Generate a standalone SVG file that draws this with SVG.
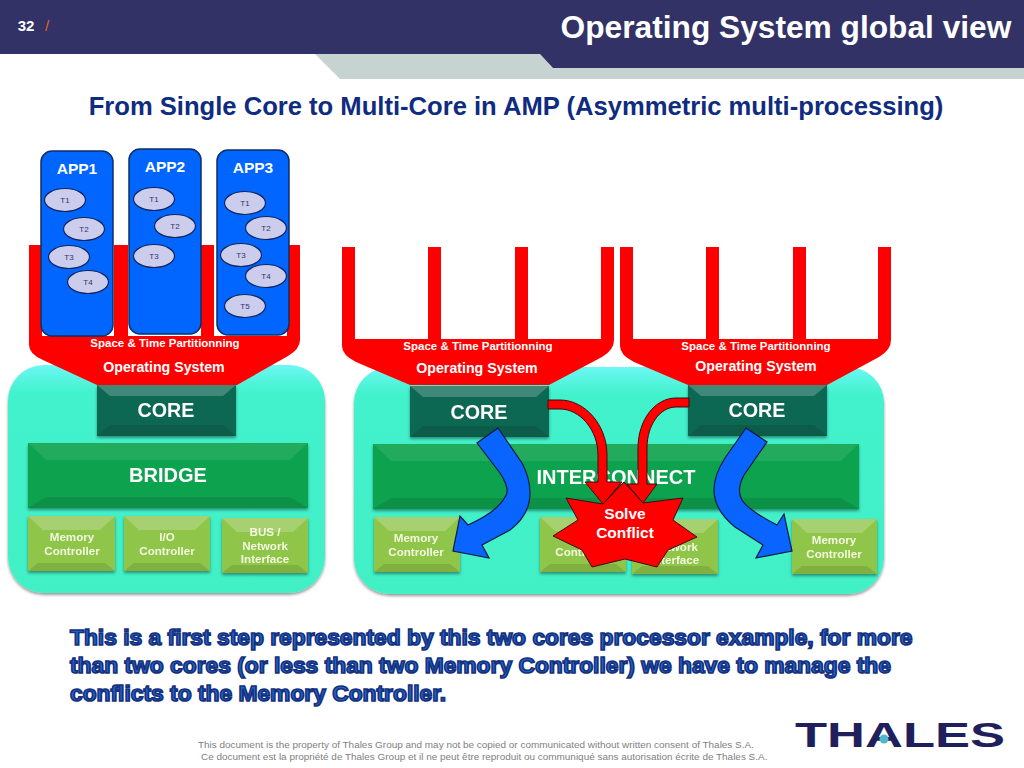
<svg xmlns="http://www.w3.org/2000/svg" width="1024" height="768" viewBox="0 0 1024 768">
<style>
text{font-family:"Liberation Sans",Arial,sans-serif;font-weight:bold;text-anchor:middle;fill:#fff}
.app{fill:#0066ff;stroke:#0f2f63;stroke-width:1.5}
.task{fill:#ccccec;stroke:#0f2560;stroke-width:1.2}
.tl{font-size:8px;font-weight:normal;fill:#33336a}
.al{font-size:15.5px}
.os{fill:#ff0000}
.pt{font-size:11.5px}
.ol{font-size:14.2px}
.cl{font-size:19.7px}
.bl{font-size:20px}
.ml{font-size:11.6px;fill:#f4f8e0}
.plate{fill:url(#teal);filter:url(#sh)}
.core{fill:#0b6753}.inter{fill:#0aa24e}.mem{fill:#8fc549}
.hi{fill:#fff;opacity:.22}.hi2{fill:#fff;opacity:.09}.lo{fill:#000;opacity:.1}
.red{fill:#ff0000;stroke:#3a0d10;stroke-width:1}
.blue{fill:#0a64ff;stroke:#0a1a40;stroke-width:1.2}
.body{font-size:22.8px;text-anchor:start;fill:#2468c8;stroke:#14307f;stroke-width:1.7px}
.foot{font-size:9.95px;font-weight:normal;text-anchor:start;fill:#808080}
</style>
<defs>
<linearGradient id="teal" x1="0" y1="0" x2="0" y2="1"><stop offset="0" stop-color="#6cf8f4"/><stop offset=".12" stop-color="#42f2cc"/><stop offset="1" stop-color="#42f0c6"/></linearGradient>
<filter id="sh" x="-5%" y="-5%" width="110%" height="115%"><feDropShadow dx="0" dy="2" stdDeviation="1.5" flood-color="#000" flood-opacity=".4"/></filter>
</defs>
<rect width="1024" height="768" fill="#fff"/>
<g id="header">
<polygon points="315,54 540,54 553,68 1024,68 1024,79 340,79" fill="#c6d3d1"/>
<polygon points="0,0 1024,0 1024,68 553,68 540,54 0,54" fill="#323266"/>
<text x="26" y="31" font-size="15">32</text>
<text x="47" y="31" font-size="15" style="font-weight:normal;fill:#e2641e">/</text>
<text x="786" y="38" font-size="31.7">Operating System global view</text>
</g>
<text id="heading" x="516" y="115" font-size="25.6" style="fill:#0f2c80">From Single Core to Multi-Core in AMP (Asymmetric multi-processing)</text>

<g id="soc1-plate"><rect class="plate" x="8" y="365" width="317" height="228" rx="36"/></g>
<g id="soc2-plate"><rect class="plate" x="354" y="367" width="530" height="227" rx="36"/></g>

<g id="os1">
<path class="os" d="M29,245H42V336H114V245H128V336H201V245H214V336H287V245H300V337V340Q300,349 288,356L237,385H97L43,360Q29,354 29,345Z"/>
<rect x="42" y="245" width="72" height="91" fill="#fff"/><rect x="128" y="245" width="73" height="91" fill="#fff"/><rect x="214" y="245" width="73" height="91" fill="#fff"/>
<text class="pt" x="165" y="347">Space &amp; Time Partitionning</text>
<text class="ol" x="164" y="372">Operating System</text>
</g>
<g id="os2">
<path class="os" d="M342,247H355V339H428V247H441V339H515V247H528V339H601V247H614V340Q614,350 602,357L549,385H410L356,362Q342,355 342,346Z"/>
<text class="pt" x="478" y="350">Space &amp; Time Partitionning</text>
<text class="ol" x="477" y="373">Operating System</text>
</g>
<g id="os3">
<path class="os" d="M620,247H633V339H706V247H719V339H793V247H806V339H878V247H891V340Q891,350 879,357L827,385H688L634,362Q620,355 620,346Z"/>
<text class="pt" x="756" y="350">Space &amp; Time Partitionning</text>
<text class="ol" x="756" y="371">Operating System</text>
</g>

<g id="app1"><rect class="app" x="41" y="151" width="72" height="185" rx="11"/><text class="al" x="77" y="174">APP1</text>
<ellipse class="task" cx="65" cy="200" rx="20.5" ry="11.5"/><text class="tl" x="65" y="203">T1</text>
<ellipse class="task" cx="84" cy="229" rx="20.5" ry="11.5"/><text class="tl" x="84" y="232">T2</text>
<ellipse class="task" cx="69" cy="257" rx="20.5" ry="11.5"/><text class="tl" x="69" y="260">T3</text>
<ellipse class="task" cx="88" cy="282" rx="20.5" ry="11.5"/><text class="tl" x="88" y="285">T4</text></g>
<g id="app2"><rect class="app" x="129" y="149" width="72" height="185" rx="11"/><text class="al" x="165" y="172">APP2</text>
<ellipse class="task" cx="154" cy="199" rx="20.5" ry="11.5"/><text class="tl" x="154" y="202">T1</text>
<ellipse class="task" cx="175" cy="226" rx="20.5" ry="11.5"/><text class="tl" x="175" y="229">T2</text>
<ellipse class="task" cx="154" cy="256" rx="20.5" ry="11.5"/><text class="tl" x="154" y="259">T3</text></g>
<g id="app3"><rect class="app" x="217" y="150" width="72" height="185" rx="11"/><text class="al" x="253" y="173">APP3</text>
<ellipse class="task" cx="245" cy="203" rx="20.5" ry="11.5"/><text class="tl" x="245" y="206">T1</text>
<ellipse class="task" cx="266" cy="228" rx="20.5" ry="11.5"/><text class="tl" x="266" y="231">T2</text>
<ellipse class="task" cx="241" cy="255" rx="20.5" ry="11.5"/><text class="tl" x="241" y="258">T3</text>
<ellipse class="task" cx="266" cy="276" rx="20.5" ry="11.5"/><text class="tl" x="266" y="279">T4</text>
<ellipse class="task" cx="245" cy="306" rx="20.5" ry="11.5"/><text class="tl" x="245" y="309">T5</text></g>

<g id="core1" filter="url(#sh)"><rect class="core" x="97" y="385" width="139" height="51"/><polygon class="hi" points="97,385 236,385 223,396 110,396"/><polygon class="lo" points="97,436 236,436 223,425 110,425"/><text class="cl" x="166" y="417">CORE</text></g>
<g id="bridge" filter="url(#sh)"><rect class="inter" x="28" y="443" width="280" height="65"/><polygon class="hi2" points="28,443 308,443 290,460 46,460"/><polygon class="lo" points="28,508 308,508 290,497 46,497"/><text class="bl" x="168" y="482">BRIDGE</text></g>
<g id="mem1" filter="url(#sh)"><rect class="mem" x="28" y="516" width="87" height="55"/><polygon class="hi" points="28,516 115,516 100,530 43,530"/><polygon class="lo" points="28,571 115,571 105,563 38,563"/><text class="ml" x="72" y="541">Memory</text><text class="ml" x="72" y="555">Controller</text></g>
<g id="io1" filter="url(#sh)"><rect class="mem" x="124" y="516" width="86" height="55"/><polygon class="hi" points="124,516 210,516 195,530 139,530"/><polygon class="lo" points="124,571 210,571 200,563 134,563"/><text class="ml" x="167" y="541">I/O</text><text class="ml" x="167" y="555">Controller</text></g>
<g id="bus1" filter="url(#sh)"><rect class="mem" x="222" y="518" width="86" height="55"/><polygon class="hi" points="222,518 308,518 293,532 237,532"/><polygon class="lo" points="222,573 308,573 298,565 232,565"/><text class="ml" x="265" y="536">BUS /</text><text class="ml" x="265" y="550">Network</text><text class="ml" x="265" y="563">Interface</text></g>

<g id="core2" filter="url(#sh)"><rect class="core" x="410" y="386" width="139" height="51"/><polygon class="hi" points="410,386 549,386 536,397 423,397"/><polygon class="lo" points="410,437 549,437 536,426 423,426"/><text class="cl" x="479" y="419">CORE</text></g>
<g id="core3" filter="url(#sh)"><rect class="core" x="688" y="385" width="139" height="51"/><polygon class="hi" points="688,385 827,385 814,396 701,396"/><polygon class="lo" points="688,436 827,436 814,425 701,425"/><text class="cl" x="757" y="417">CORE</text></g>
<g id="interconnect" filter="url(#sh)"><rect class="inter" x="373" y="444" width="486" height="65"/><polygon class="hi2" points="373,444 859,444 841,461 391,461"/><polygon class="lo" points="373,509 859,509 841,498 391,498"/><text class="bl" x="616" y="484">INTERCONNECT</text></g>
<g id="mem2" filter="url(#sh)"><rect class="mem" x="374" y="517" width="86" height="55"/><polygon class="hi" points="374,517 460,517 445,531 389,531"/><polygon class="lo" points="374,572 460,572 450,564 384,564"/><text class="ml" x="416" y="542">Memory</text><text class="ml" x="416" y="556">Controller</text></g>
<g id="io2" filter="url(#sh)"><rect class="mem" x="540" y="517" width="86" height="55"/><polygon class="hi" points="540,517 626,517 611,531 555,531"/><polygon class="lo" points="540,572 626,572 616,564 550,564"/><text class="ml" x="583" y="556">Controller</text></g>
<g id="bus2" filter="url(#sh)"><rect class="mem" x="632" y="519" width="86" height="55"/><polygon class="hi" points="632,519 718,519 703,533 647,533"/><polygon class="lo" points="632,574 718,574 708,566 642,566"/><text class="ml" x="675" y="551">Network</text><text class="ml" x="675" y="564">Interface</text></g>
<g id="mem3" filter="url(#sh)"><rect class="mem" x="792" y="519" width="85" height="55"/><polygon class="hi" points="792,519 877,519 862,533 807,533"/><polygon class="lo" points="792,574 877,574 867,566 802,566"/><text class="ml" x="834" y="544">Memory</text><text class="ml" x="834" y="558">Controller</text></g>

<g id="conflict">
<polygon class="red" points="624,482 643,503 683,498 673,520 697,537 668,550 657,567 625,559 592,567 582,550 553,536 578,520 566,498 603,504"/>
<text x="625" y="519" font-size="15.5">Solve</text>
<text x="625" y="538" font-size="15.5">Conflict</text>
</g>
<g id="connectors">
<path class="red" d="M548,400H560C585,400 607,425 607,455V482H622L603,504L585,482H598V455C598,430 580,409 560,409H548Z"/>
<path class="red" d="M689,398H676C655,398 638,420 638,448V484H627L643,503L657,484H647V448C647,425 660,407 676,407H689Z"/>
<path class="blue" d="M498,428L477,443L500,473Q511,490 505,497Q497,512 468,525L460,516L453,551L489,558L482,545L510,530Q530,515 530,493Q530,478 522,463Z"/>
<path class="blue" d="M746,428L767,442L744,475Q736,490 742,500Q748,510 777,525L784,514L792,551L756,558L763,545L735,527Q714,510 714,490Q714,475 725,458Z"/>
</g>

<g id="note">
<text class="body" x="70" y="645">This is a first step represented by this two cores processor example, for more</text>
<text class="body" x="70" y="673">than two cores (or less than two Memory Controller) we have to manage the</text>
<text class="body" x="70" y="701">conflicts to the Memory Controller.</text>
</g>
<g id="footer">
<text class="foot" x="198" y="748">This document is the property of Thales Group and may not be copied or communicated without written consent of Thales S.A.</text>
<text class="foot" x="201" y="760">Ce document est la propriété de Thales Group et il ne peut être reproduit ou communiqué sans autorisation écrite de Thales S.A.</text>
</g>
<g id="logo">
<text x="900" y="747" font-size="35" textLength="210" lengthAdjust="spacingAndGlyphs" style="fill:#1f1f5c">THALES</text>
<circle cx="884" cy="739" r="4.5" fill="#4fb8cc"/>
</g>
</svg>
